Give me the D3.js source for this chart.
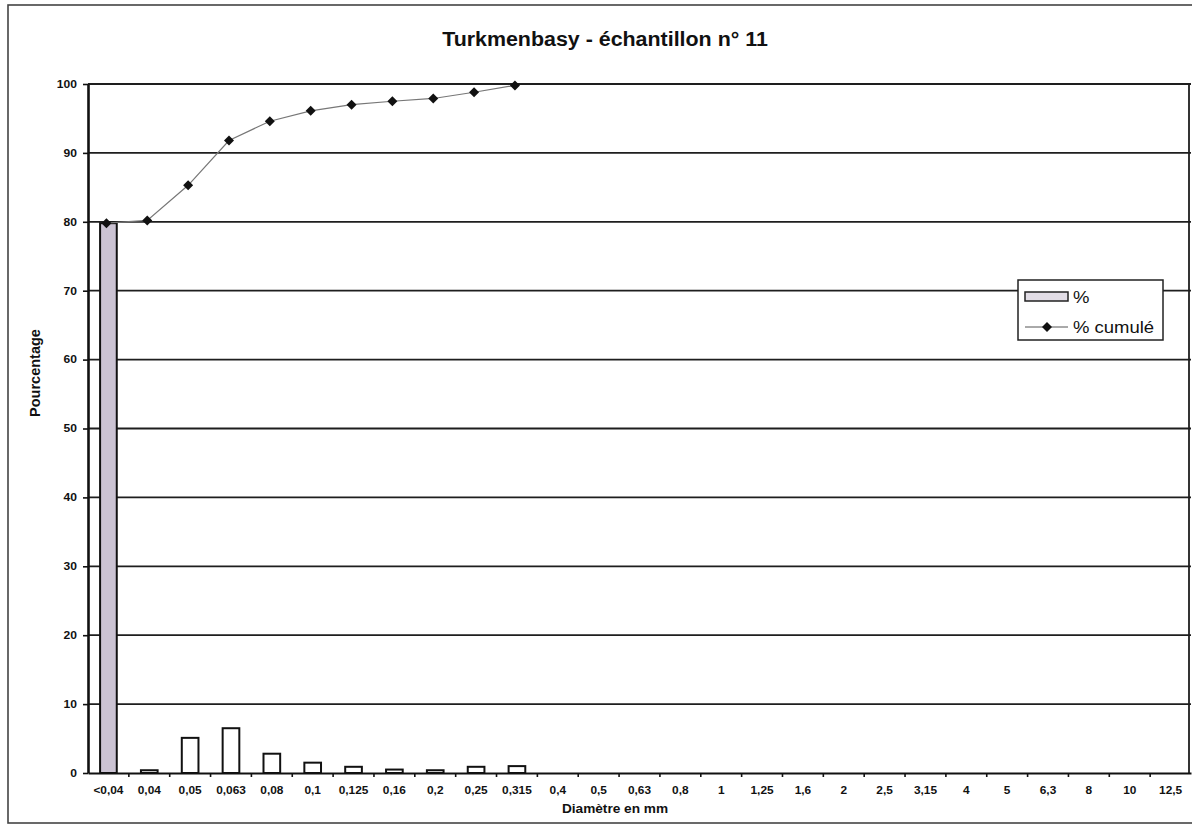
<!DOCTYPE html>
<html>
<head>
<meta charset="utf-8">
<script src="https://cdn.jsdelivr.net/npm/d3@7"></script>
<style>
  html, body { margin: 0; padding: 0; background: #fff; }
  svg { display: block; font-family: "Liberation Sans", Arial, sans-serif; }
</style>
</head>
<body>
<svg id="chart" width="1192" height="827"></svg>
<script>
// Sieve classes (mm)
const categories = ["<0,04", "0,04", "0,05", "0,063", "0,08", "0,1", "0,125", "0,16", "0,2", "0,25", "0,315",
  "0,4", "0,5", "0,63", "0,8", "1", "1,25", "1,6", "2", "2,5", "3,15", "4", "5", "6,3", "8", "10", "12,5"];
// Mass percentage retained per class
const percent = [79.8, 0.4, 5.1, 6.5, 2.8, 1.5, 0.9, 0.5, 0.4, 0.9, 1.0];
// Cumulative percentage
const cumulative = [79.8, 80.2, 85.3, 91.8, 94.6, 96.1, 97.0, 97.5, 97.9, 98.8, 99.8];
const yTicks = [0, 10, 20, 30, 40, 50, 60, 70, 80, 90, 100];

const title = "Turkmenbasy - échantillon n° 11";
const xTitle = "Diamètre en mm";
const yTitle = "Pourcentage";
const legendLabels = ["%", "% cumulé"];

const svg = d3.select("#chart");
const plot = { left: 88, right: 1191, top: 84, bottom: 773 };

const x = d3.scaleBand().domain(categories).range([plot.left, plot.right]).paddingInner(0).paddingOuter(0);
const y = d3.scaleLinear().domain([0, 100]).range([plot.bottom, plot.top]);
const barW = x.bandwidth() / 2.45;

// Widen a text selection horizontally by a factor (wide-set printed lettering)
function widen(sel, k) {
  sel.each(function () {
    const w = this.getComputedTextLength();
    d3.select(this).attr("textLength", w * k).attr("lengthAdjust", "spacingAndGlyphs");
  });
}

// Outer chart frame
svg.append("rect").attr("x", 8).attr("y", 5).attr("width", 1200).attr("height", 818)
  .attr("fill", "none").attr("stroke", "#444").attr("stroke-width", 1.6);

// Title
svg.append("text").attr("x", 605).attr("y", 46).attr("text-anchor", "middle")
  .attr("font-size", 20).attr("font-weight", "bold").attr("fill", "#111").text(title)
  .call(widen, 1.07);

// Horizontal gridlines
svg.append("g").selectAll("line").data(yTicks.filter(d => d > 0)).join("line")
  .attr("x1", plot.left).attr("x2", plot.right)
  .attr("y1", d => y(d)).attr("y2", d => y(d))
  .attr("stroke", "#1e1e1e").attr("stroke-width", 1.8);

// Right border of plot area
svg.append("line").attr("x1", 1189).attr("x2", 1189).attr("y1", plot.top).attr("y2", plot.bottom)
  .attr("stroke", "#1e1e1e").attr("stroke-width", 1.8);

// Y axis
const yAxis = svg.append("g").attr("transform", `translate(${plot.left},0)`)
  .call(d3.axisLeft(y).tickValues(yTicks).tickSize(5).tickSizeOuter(0).tickPadding(6));
yAxis.select(".domain").attr("stroke", "#111").attr("stroke-width", 2.6);
yAxis.selectAll(".tick line").attr("stroke", "#111").attr("stroke-width", 1.6);
yAxis.selectAll("text").attr("font-size", 10.5).attr("font-weight", "bold").attr("fill", "#111")
  .attr("font-family", "'Liberation Sans', Arial, sans-serif")
  .call(widen, 1.15);

// Y axis title
svg.append("text").attr("transform", "translate(40,373) rotate(-90)").attr("text-anchor", "middle")
  .attr("font-size", 14.5).attr("font-weight", "bold").attr("fill", "#111").text(yTitle);

// Bars
svg.append("g").selectAll("rect").data(percent).join("rect")
  .attr("x", (d, i) => x(categories[i]) + x.bandwidth() / 2 - barW / 2)
  .attr("y", d => y(d))
  .attr("width", barW)
  .attr("height", d => y(0) - y(d))
  .attr("fill", (d, i) => i === 0 ? "#cbc3d3" : "#fff")
  .attr("stroke", "#111").attr("stroke-width", 2);

// X axis
const xAxis = svg.append("g").attr("transform", `translate(0,${plot.bottom})`)
  .call(d3.axisBottom(x).tickSize(0).tickPadding(14));
xAxis.select(".domain").attr("stroke", "#111").attr("stroke-width", 2.2);
xAxis.selectAll("text").attr("font-size", 10.5).attr("font-weight", "bold").attr("fill", "#111")
  .attr("font-family", "'Liberation Sans', Arial, sans-serif")
  .call(widen, 1.13);
// Tick marks on category boundaries
svg.append("g").selectAll("line").data(categories.slice(1)).join("line")
  .attr("x1", d => x(d)).attr("x2", d => x(d))
  .attr("y1", plot.bottom).attr("y2", plot.bottom + 4)
  .attr("stroke", "#111").attr("stroke-width", 1.6);

// X axis title
svg.append("text").attr("x", 615).attr("y", 813).attr("text-anchor", "middle")
  .attr("font-size", 13).attr("font-weight", "bold").attr("fill", "#111").text(xTitle)
  .call(widen, 1.05);

// Cumulative line
const cx = (d, i) => x(categories[i]) + x.bandwidth() / 2 - 2;
const line = d3.line().x(cx).y(d => y(d));
svg.append("path").datum(cumulative).attr("d", line)
  .attr("fill", "none").attr("stroke", "#777").attr("stroke-width", 1.2);

const marker = d3.symbol().type(d3.symbolSquare).size(50);
svg.append("g").selectAll("path").data(cumulative).join("path")
  .attr("d", marker)
  .attr("transform", (d, i) => `translate(${cx(d, i)},${y(d)}) rotate(45)`)
  .attr("fill", "#111");

// Legend
const lg = svg.append("g").attr("transform", "translate(1018,280)");
lg.append("rect").attr("width", 145).attr("height", 60)
  .attr("fill", "#fff").attr("stroke", "#222").attr("stroke-width", 1.5);
lg.append("rect").attr("x", 7).attr("y", 12).attr("width", 43).attr("height", 9)
  .attr("fill", "#e2dde6").attr("stroke", "#222").attr("stroke-width", 1.5);
lg.append("line").attr("x1", 7).attr("x2", 50).attr("y1", 47).attr("y2", 47)
  .attr("stroke", "#555").attr("stroke-width", 1);
lg.append("path").attr("d", marker).attr("transform", "translate(29,47) rotate(45)").attr("fill", "#111");
lg.append("text").attr("x", 55).attr("y", 23).attr("font-size", 16.5).attr("fill", "#111").text(legendLabels[0])
  .call(widen, 1.12);
lg.append("text").attr("x", 55).attr("y", 53).attr("font-size", 16.5).attr("fill", "#111").text(legendLabels[1])
  .call(widen, 1.12);
</script>
</body>
</html>
